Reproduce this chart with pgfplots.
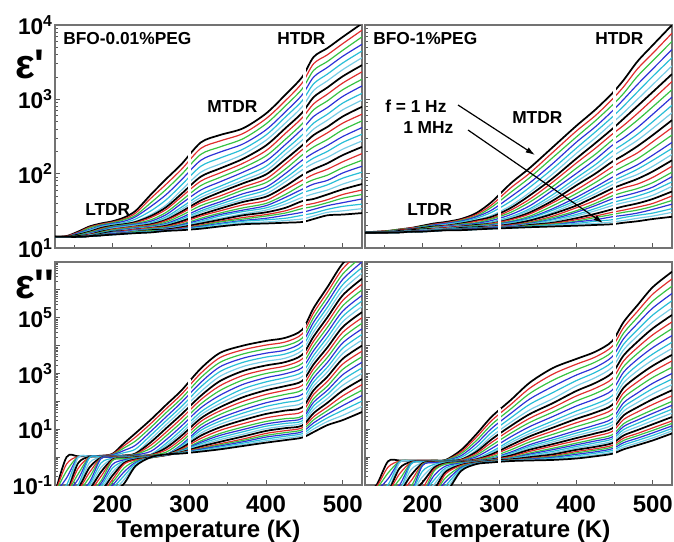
\documentclass[border=0pt]{standalone}
\usepackage{pgfplots}
\pgfplotsset{compat=1.18}
\usepackage{pgfplotstable}
\usepackage{fontspec}
\setmainfont{Liberation Sans}
\newfontfamily\epsfont{Liberation Sans}
\usetikzlibrary{arrows.meta}
\definecolor{cR}{RGB}{225,45,45}
\definecolor{cG}{RGB}{55,195,65}
\definecolor{cB}{RGB}{45,50,215}
\definecolor{cC}{RGB}{40,190,215}
\definecolor{cL}{RGB}{120,205,230}
\pgfplotscreateplotcyclelist{diel}{black,line width=1.3pt\\cR,line width=0.9pt\\cG,line width=0.9pt\\cB,line width=0.9pt\\cC,line width=0.9pt\\cL,line width=0.9pt\\}

\pgfplotstableread{
T c0 c1 c2 c3 c4 c5 c6 c7 c8 c9 c10 c11 c12 c13 c14 c15 c16 c17 c18 c19 c20 c21 c22 c23 c24 c25 c26 c27 c28 c29 c30
125 1.15 1.15 1.15 1.15 1.15 1.15 1.15 1.15 1.15 1.15 1.15 1.15 1.15 1.15 1.15 1.15 1.15 1.15 1.15 1.15 1.15 1.15 1.15 1.15 1.15 1.15 1.15 1.15 1.15 1.15 1.15
140 1.16 1.16 1.15 1.15 1.15 1.15 1.15 1.15 1.15 1.15 1.15 1.15 1.15 1.15 1.15 1.15 1.15 1.15 1.15 1.15 1.15 1.15 1.15 1.15 1.15 1.15 1.15 1.15 1.15 1.15 1.15
155 1.22 1.21 1.20 1.20 1.19 1.18 1.18 1.17 1.17 1.16 1.16 1.16 1.16 1.15 1.15 1.15 1.15 1.15 1.15 1.15 1.15 1.15 1.15 1.15 1.15 1.15 1.15 1.15 1.15 1.15 1.15
170 1.29 1.28 1.27 1.25 1.24 1.23 1.22 1.21 1.21 1.20 1.19 1.19 1.18 1.18 1.17 1.17 1.17 1.17 1.16 1.16 1.16 1.16 1.16 1.16 1.16 1.16 1.16 1.16 1.16 1.16 1.16
185 1.33 1.32 1.31 1.30 1.29 1.28 1.27 1.26 1.25 1.24 1.23 1.22 1.22 1.21 1.21 1.20 1.20 1.19 1.19 1.18 1.18 1.18 1.18 1.17 1.17 1.17 1.17 1.17 1.17 1.17 1.17
200 1.36 1.35 1.34 1.33 1.32 1.31 1.30 1.29 1.29 1.28 1.27 1.26 1.25 1.25 1.24 1.23 1.23 1.22 1.22 1.21 1.21 1.21 1.20 1.20 1.19 1.19 1.19 1.19 1.18 1.18 1.18
215 1.41 1.39 1.38 1.36 1.34 1.33 1.32 1.31 1.31 1.30 1.29 1.28 1.27 1.27 1.26 1.25 1.24 1.24 1.23 1.23 1.22 1.22 1.21 1.21 1.20 1.20 1.20 1.20 1.19 1.19 1.19
230 1.50 1.47 1.44 1.42 1.39 1.36 1.35 1.34 1.33 1.32 1.31 1.30 1.29 1.29 1.28 1.27 1.26 1.26 1.25 1.25 1.24 1.24 1.23 1.23 1.22 1.22 1.22 1.21 1.21 1.20 1.20
250 1.72 1.67 1.61 1.56 1.50 1.45 1.43 1.41 1.38 1.36 1.34 1.33 1.32 1.31 1.30 1.29 1.28 1.28 1.27 1.27 1.26 1.25 1.25 1.24 1.24 1.23 1.23 1.22 1.22 1.21 1.21
270 1.93 1.86 1.79 1.72 1.65 1.58 1.55 1.52 1.48 1.45 1.42 1.40 1.38 1.37 1.35 1.33 1.32 1.31 1.30 1.29 1.28 1.27 1.26 1.26 1.25 1.24 1.24 1.24 1.23 1.23 1.23
290 2.13 2.06 1.99 1.92 1.85 1.78 1.73 1.69 1.64 1.60 1.55 1.52 1.49 1.47 1.44 1.41 1.39 1.37 1.36 1.34 1.32 1.31 1.30 1.29 1.28 1.27 1.26 1.26 1.25 1.25 1.24
315 2.42 2.34 2.26 2.18 2.10 2.02 1.96 1.90 1.84 1.78 1.72 1.68 1.64 1.61 1.57 1.53 1.50 1.48 1.45 1.43 1.40 1.38 1.36 1.35 1.33 1.31 1.30 1.29 1.28 1.27 1.26
340 2.52 2.44 2.36 2.29 2.21 2.13 2.07 2.01 1.95 1.89 1.83 1.79 1.75 1.70 1.66 1.62 1.59 1.56 1.53 1.50 1.47 1.45 1.43 1.40 1.38 1.36 1.35 1.33 1.32 1.30 1.29
370 2.61 2.54 2.47 2.40 2.33 2.26 2.20 2.14 2.08 2.02 1.96 1.91 1.87 1.82 1.78 1.73 1.69 1.65 1.62 1.58 1.54 1.51 1.49 1.46 1.44 1.41 1.39 1.37 1.36 1.34 1.32
400 2.81 2.74 2.67 2.59 2.52 2.45 2.38 2.31 2.24 2.17 2.10 2.04 1.99 1.93 1.88 1.82 1.78 1.73 1.69 1.64 1.60 1.57 1.54 1.51 1.48 1.45 1.43 1.40 1.38 1.35 1.33
425 3.06 2.98 2.91 2.83 2.76 2.68 2.61 2.54 2.46 2.39 2.32 2.26 2.19 2.13 2.06 2.00 1.94 1.89 1.83 1.78 1.72 1.68 1.63 1.59 1.54 1.50 1.47 1.44 1.40 1.37 1.34
447 3.30 3.22 3.14 3.06 2.98 2.90 2.82 2.75 2.67 2.60 2.52 2.45 2.38 2.32 2.25 2.18 2.11 2.05 1.98 1.91 1.85 1.79 1.74 1.68 1.63 1.57 1.53 1.48 1.44 1.39 1.35
462 3.57 3.48 3.39 3.30 3.21 3.12 3.03 2.94 2.86 2.77 2.68 2.60 2.52 2.44 2.36 2.28 2.21 2.14 2.06 1.99 1.92 1.86 1.79 1.73 1.66 1.60 1.56 1.52 1.47 1.43 1.39
480 3.69 3.60 3.51 3.43 3.34 3.25 3.16 3.07 2.98 2.89 2.80 2.72 2.63 2.55 2.46 2.38 2.30 2.22 2.14 2.06 1.98 1.91 1.85 1.78 1.72 1.65 1.61 1.57 1.52 1.48 1.44
500 3.84 3.75 3.66 3.58 3.49 3.40 3.31 3.22 3.13 3.04 2.95 2.86 2.77 2.68 2.59 2.50 2.42 2.33 2.25 2.16 2.08 2.01 1.94 1.86 1.79 1.72 1.67 1.61 1.56 1.50 1.45
525 4.02 3.93 3.84 3.74 3.65 3.56 3.46 3.37 3.27 3.18 3.08 2.99 2.90 2.80 2.71 2.62 2.53 2.44 2.36 2.27 2.18 2.10 2.02 1.94 1.86 1.78 1.72 1.66 1.59 1.53 1.47
}\tTL

\pgfplotstableread{
T c0 c1 c2 c3 c4 c5 c6 c7 c8 c9 c10 c11 c12 c13 c14 c15 c16 c17 c18 c19 c20 c21 c22 c23 c24 c25 c26 c27 c28 c29 c30
125 1.21 1.21 1.21 1.21 1.21 1.21 1.21 1.21 1.21 1.21 1.21 1.21 1.21 1.21 1.21 1.21 1.21 1.21 1.21 1.21 1.21 1.21 1.21 1.21 1.21 1.21 1.21 1.21 1.21 1.21 1.21
140 1.22 1.22 1.21 1.21 1.21 1.21 1.21 1.21 1.21 1.21 1.21 1.21 1.21 1.21 1.21 1.21 1.21 1.21 1.21 1.21 1.21 1.21 1.21 1.21 1.21 1.21 1.21 1.21 1.21 1.21 1.21
155 1.23 1.23 1.23 1.22 1.22 1.22 1.22 1.22 1.22 1.22 1.22 1.22 1.21 1.21 1.21 1.21 1.21 1.21 1.21 1.21 1.21 1.21 1.21 1.21 1.21 1.21 1.21 1.21 1.21 1.21 1.21
170 1.25 1.25 1.25 1.24 1.24 1.24 1.24 1.24 1.23 1.23 1.23 1.23 1.23 1.22 1.22 1.22 1.22 1.22 1.22 1.22 1.22 1.22 1.21 1.21 1.21 1.21 1.21 1.21 1.21 1.21 1.21
185 1.27 1.27 1.26 1.26 1.25 1.25 1.25 1.25 1.24 1.24 1.24 1.24 1.24 1.23 1.23 1.23 1.23 1.23 1.22 1.22 1.22 1.22 1.22 1.22 1.22 1.22 1.22 1.22 1.22 1.22 1.22
200 1.30 1.29 1.29 1.28 1.28 1.27 1.27 1.26 1.26 1.25 1.25 1.25 1.25 1.24 1.24 1.24 1.24 1.24 1.23 1.23 1.23 1.23 1.23 1.23 1.23 1.23 1.23 1.23 1.22 1.22 1.22
215 1.33 1.32 1.31 1.31 1.30 1.29 1.29 1.28 1.28 1.27 1.27 1.27 1.26 1.26 1.25 1.25 1.25 1.25 1.24 1.24 1.24 1.24 1.24 1.23 1.23 1.23 1.23 1.23 1.23 1.23 1.23
230 1.35 1.34 1.33 1.33 1.32 1.31 1.30 1.30 1.29 1.29 1.28 1.28 1.27 1.27 1.26 1.26 1.26 1.26 1.25 1.25 1.25 1.25 1.25 1.24 1.24 1.24 1.24 1.24 1.24 1.24 1.24
250 1.39 1.38 1.37 1.36 1.35 1.34 1.33 1.32 1.32 1.31 1.30 1.30 1.29 1.29 1.28 1.28 1.28 1.27 1.27 1.26 1.26 1.26 1.26 1.25 1.25 1.25 1.25 1.25 1.24 1.24 1.24
270 1.47 1.45 1.43 1.42 1.40 1.38 1.37 1.36 1.34 1.33 1.32 1.31 1.31 1.30 1.30 1.29 1.29 1.28 1.28 1.27 1.27 1.27 1.27 1.26 1.26 1.26 1.26 1.26 1.25 1.25 1.25
290 1.62 1.58 1.55 1.51 1.48 1.44 1.42 1.40 1.39 1.37 1.35 1.34 1.33 1.33 1.32 1.31 1.30 1.30 1.29 1.29 1.28 1.28 1.28 1.27 1.27 1.27 1.27 1.27 1.26 1.26 1.26
315 1.87 1.81 1.75 1.69 1.63 1.57 1.54 1.51 1.48 1.45 1.42 1.41 1.39 1.38 1.36 1.35 1.34 1.33 1.32 1.31 1.30 1.30 1.29 1.29 1.28 1.28 1.28 1.28 1.27 1.27 1.27
340 2.08 2.01 1.95 1.88 1.82 1.75 1.71 1.66 1.62 1.57 1.53 1.51 1.48 1.46 1.43 1.41 1.40 1.38 1.37 1.35 1.34 1.33 1.32 1.32 1.31 1.30 1.30 1.29 1.29 1.28 1.28
370 2.36 2.29 2.22 2.14 2.07 2.00 1.94 1.89 1.83 1.78 1.72 1.68 1.64 1.61 1.57 1.53 1.51 1.48 1.46 1.43 1.41 1.39 1.38 1.36 1.34 1.33 1.32 1.31 1.31 1.30 1.29
400 2.64 2.57 2.49 2.42 2.34 2.27 2.20 2.14 2.07 2.00 1.94 1.89 1.84 1.78 1.73 1.68 1.64 1.61 1.57 1.54 1.50 1.48 1.45 1.43 1.40 1.38 1.36 1.35 1.33 1.32 1.30
425 2.86 2.78 2.71 2.63 2.56 2.48 2.41 2.34 2.26 2.19 2.12 2.06 2.00 1.94 1.88 1.82 1.78 1.73 1.69 1.64 1.60 1.57 1.53 1.50 1.46 1.43 1.41 1.38 1.36 1.33 1.31
447 3.08 3.00 2.92 2.84 2.76 2.68 2.60 2.53 2.45 2.38 2.30 2.23 2.16 2.09 2.02 1.95 1.90 1.85 1.80 1.75 1.70 1.66 1.61 1.57 1.52 1.48 1.45 1.42 1.38 1.35 1.32
462 3.26 3.17 3.08 3.00 2.91 2.82 2.74 2.65 2.57 2.48 2.40 2.33 2.25 2.18 2.10 2.03 1.97 1.92 1.86 1.81 1.75 1.70 1.65 1.61 1.56 1.51 1.48 1.44 1.41 1.37 1.34
480 3.51 3.41 3.31 3.20 3.10 3.00 2.91 2.81 2.72 2.62 2.53 2.45 2.37 2.28 2.20 2.12 2.06 1.99 1.93 1.86 1.80 1.75 1.70 1.65 1.60 1.55 1.51 1.47 1.44 1.40 1.36
500 3.73 3.62 3.52 3.41 3.31 3.20 3.10 3.00 2.90 2.80 2.70 2.61 2.52 2.43 2.34 2.25 2.18 2.10 2.03 1.95 1.88 1.82 1.77 1.71 1.66 1.60 1.56 1.52 1.47 1.43 1.39
525 4.00 3.89 3.78 3.67 3.56 3.45 3.34 3.24 3.13 3.03 2.92 2.82 2.72 2.62 2.52 2.42 2.34 2.26 2.18 2.10 2.02 1.96 1.89 1.83 1.76 1.70 1.64 1.59 1.53 1.48 1.42
}\tTR

\pgfplotstableread{
T c0 c1 c2 c3 c4 c5 c6 c7 c8 c9 c10 c11 c12 c13 c14 c15 c16 c17 c18 c19 c20 c21 c22 c23 c24 c25 c26 c27 c28 c29 c30
125 -1.3 -1.3 -1.3 -1.3 -1.3 -1.3 -1.3 -1.3 -1.3 -1.3 -1.3 -1.3 -1.3 -1.3 -1.3 -1.3 -1.3 -1.3 -1.3 -1.3 -1.3 -1.3 -1.3 -1.3 -1.3 -1.3 -1.3 -1.3 -1.3 -1.3 -1.3
140 0.00 -0.25 -0.50 -0.75 -1.00 -1.25 -1.26 -1.27 -1.28 -1.29 -1.3 -1.3 -1.3 -1.3 -1.3 -1.3 -1.3 -1.3 -1.3 -1.3 -1.3 -1.3 -1.3 -1.3 -1.3 -1.3 -1.3 -1.3 -1.3 -1.3 -1.3
155 0.03 0.02 0.01 0.00 -0.01 -0.02 -0.22 -0.41 -0.61 -0.80 -1.00 -1.06 -1.12 -1.18 -1.24 -1.3 -1.3 -1.3 -1.3 -1.3 -1.3 -1.3 -1.3 -1.3 -1.3 -1.3 -1.3 -1.3 -1.3 -1.3 -1.3
170 0.04 0.04 0.03 0.03 0.02 0.02 0.01 0.00 0.00 -0.01 -0.02 -0.20 -0.37 -0.55 -0.72 -0.90 -0.98 -1.06 -1.14 -1.22 -1.3 -1.3 -1.3 -1.3 -1.3 -1.3 -1.3 -1.3 -1.3 -1.3 -1.3
185 0.05 0.05 0.04 0.04 0.03 0.03 0.02 0.02 0.01 0.01 0.00 -0.01 -0.02 -0.03 -0.04 -0.05 -0.21 -0.37 -0.53 -0.69 -0.85 -0.94 -1.03 -1.12 -1.21 -1.3 -1.3 -1.3 -1.3 -1.3 -1.3
200 0.12 0.11 0.09 0.08 0.06 0.05 0.04 0.04 0.03 0.03 0.02 0.01 0.00 0.00 -0.01 -0.02 -0.04 -0.06 -0.08 -0.10 -0.12 -0.26 -0.39 -0.53 -0.66 -0.80 -0.90 -1.00 -1.10 -1.20 -1.30
215 0.50 0.41 0.33 0.24 0.16 0.07 0.06 0.06 0.05 0.05 0.04 0.03 0.02 0.02 0.01 0.00 -0.01 -0.02 -0.04 -0.05 -0.06 -0.10 -0.14 -0.17 -0.21 -0.25 -0.39 -0.53 -0.67 -0.81 -0.95
230 0.86 0.72 0.58 0.43 0.29 0.15 0.13 0.11 0.10 0.08 0.06 0.05 0.05 0.04 0.04 0.03 0.02 0.01 0.00 -0.01 -0.02 -0.04 -0.05 -0.07 -0.08 -0.10 -0.14 -0.19 -0.23 -0.28 -0.32
250 1.35 1.21 1.07 0.93 0.79 0.65 0.54 0.43 0.32 0.21 0.10 0.09 0.08 0.08 0.07 0.06 0.05 0.05 0.04 0.04 0.03 0.02 0.01 0.00 -0.01 -0.02 -0.02 -0.01 -0.01 0.00 0.00
270 1.88 1.74 1.60 1.45 1.31 1.17 1.04 0.90 0.77 0.63 0.50 0.42 0.34 0.26 0.18 0.10 0.10 0.09 0.09 0.08 0.08 0.08 0.08 0.07 0.07 0.07 0.08 0.08 0.09 0.09 0.10
290 2.40 2.26 2.11 1.97 1.82 1.68 1.54 1.40 1.26 1.12 0.98 0.87 0.77 0.66 0.56 0.45 0.41 0.37 0.33 0.29 0.25 0.23 0.22 0.20 0.18 0.17 0.16 0.15 0.15 0.14 0.13
315 3.18 3.01 2.85 2.68 2.52 2.35 2.20 2.06 1.91 1.77 1.62 1.51 1.39 1.28 1.16 1.05 0.96 0.86 0.77 0.67 0.58 0.53 0.48 0.43 0.38 0.33 0.30 0.28 0.25 0.23 0.20
340 3.74 3.57 3.40 3.24 3.07 2.90 2.73 2.56 2.39 2.22 2.05 1.92 1.79 1.66 1.53 1.40 1.29 1.18 1.07 0.96 0.85 0.78 0.70 0.63 0.55 0.48 0.44 0.40 0.36 0.32 0.28
370 4.00 3.85 3.70 3.55 3.40 3.25 3.09 2.93 2.77 2.61 2.45 2.30 2.15 2.00 1.85 1.70 1.58 1.45 1.33 1.20 1.08 0.99 0.91 0.82 0.74 0.65 0.60 0.55 0.50 0.45 0.40
400 4.17 4.02 3.88 3.73 3.59 3.44 3.29 3.14 3.00 2.85 2.70 2.55 2.40 2.25 2.10 1.95 1.82 1.68 1.55 1.41 1.28 1.19 1.11 1.02 0.94 0.85 0.78 0.72 0.65 0.59 0.52
425 4.28 4.13 3.99 3.84 3.70 3.55 3.41 3.27 3.13 2.99 2.85 2.70 2.55 2.40 2.25 2.10 1.96 1.81 1.67 1.52 1.38 1.29 1.21 1.12 1.04 0.95 0.88 0.81 0.75 0.68 0.61
447 4.57 4.42 4.27 4.13 3.98 3.83 3.67 3.52 3.36 3.21 3.05 2.89 2.73 2.57 2.41 2.25 2.09 1.94 1.78 1.63 1.47 1.39 1.30 1.22 1.13 1.05 0.98 0.91 0.84 0.77 0.70
462 5.35 5.18 5.01 4.84 4.67 4.50 4.33 4.16 3.99 3.82 3.65 3.49 3.33 3.17 3.01 2.85 2.70 2.55 2.40 2.25 2.10 1.97 1.84 1.71 1.58 1.45 1.34 1.23 1.12 1.01 0.90
480 6.10 5.92 5.74 5.56 5.38 5.20 5.02 4.84 4.66 4.48 4.30 4.12 3.94 3.76 3.58 3.40 3.23 3.06 2.89 2.72 2.55 2.40 2.25 2.10 1.95 1.80 1.67 1.54 1.41 1.28 1.15
500 6.95 6.76 6.57 6.38 6.19 6.00 5.81 5.62 5.43 5.24 5.05 4.86 4.67 4.48 4.29 4.10 3.91 3.72 3.53 3.34 3.15 2.96 2.77 2.58 2.39 2.20 2.03 1.85 1.68 1.50 1.33
525 7.60 7.40 7.20 7.00 6.80 6.60 6.40 6.20 6.00 5.80 5.60 5.40 5.20 5.00 4.80 4.60 4.40 4.20 4.00 3.80 3.60 3.40 3.20 3.00 2.80 2.60 2.40 2.21 2.01 1.82 1.62
}\tBL

\pgfplotstableread{
T c0 c1 c2 c3 c4 c5 c6 c7 c8 c9 c10 c11 c12 c13 c14 c15 c16 c17 c18 c19 c20 c21 c22 c23 c24 c25 c26 c27 c28 c29 c30
125 -1.3 -1.3 -1.3 -1.3 -1.3 -1.3 -1.3 -1.3 -1.3 -1.3 -1.3 -1.3 -1.3 -1.3 -1.3 -1.3 -1.3 -1.3 -1.3 -1.3 -1.3 -1.3 -1.3 -1.3 -1.3 -1.3 -1.3 -1.3 -1.3 -1.3 -1.3
140 -1.00 -1.06 -1.12 -1.18 -1.24 -1.3 -1.3 -1.3 -1.3 -1.3 -1.3 -1.3 -1.3 -1.3 -1.3 -1.3 -1.3 -1.3 -1.3 -1.3 -1.3 -1.3 -1.3 -1.3 -1.3 -1.3 -1.3 -1.3 -1.3 -1.3 -1.3
155 -0.15 -0.36 -0.57 -0.78 -0.99 -1.20 -1.22 -1.24 -1.26 -1.28 -1.3 -1.3 -1.3 -1.3 -1.3 -1.3 -1.3 -1.3 -1.3 -1.3 -1.3 -1.3 -1.3 -1.3 -1.3 -1.3 -1.3 -1.3 -1.3 -1.3 -1.3
170 -0.12 -0.14 -0.15 -0.17 -0.18 -0.20 -0.40 -0.60 -0.80 -1.00 -1.20 -1.22 -1.24 -1.26 -1.28 -1.3 -1.3 -1.3 -1.3 -1.3 -1.3 -1.3 -1.3 -1.3 -1.3 -1.3 -1.3 -1.3 -1.3 -1.3 -1.3
185 -0.12 -0.13 -0.13 -0.14 -0.14 -0.15 -0.17 -0.19 -0.21 -0.23 -0.25 -0.45 -0.65 -0.85 -1.05 -1.25 -1.26 -1.27 -1.28 -1.29 -1.3 -1.3 -1.3 -1.3 -1.3 -1.3 -1.3 -1.3 -1.3 -1.3 -1.3
200 -0.12 -0.12 -0.13 -0.13 -0.14 -0.14 -0.15 -0.15 -0.16 -0.16 -0.17 -0.20 -0.22 -0.25 -0.27 -0.30 -0.50 -0.70 -0.90 -1.10 -1.3 -1.3 -1.3 -1.3 -1.3 -1.3 -1.3 -1.3 -1.3 -1.3 -1.3
215 -0.12 -0.12 -0.12 -0.13 -0.13 -0.13 -0.13 -0.14 -0.14 -0.15 -0.15 -0.16 -0.17 -0.18 -0.19 -0.20 -0.26 -0.32 -0.38 -0.44 -0.50 -0.66 -0.82 -0.98 -1.14 -1.3 -1.3 -1.3 -1.3 -1.3 -1.3
230 -0.10 -0.11 -0.11 -0.12 -0.12 -0.13 -0.13 -0.14 -0.14 -0.15 -0.15 -0.16 -0.16 -0.17 -0.17 -0.18 -0.19 -0.21 -0.22 -0.24 -0.25 -0.32 -0.39 -0.46 -0.53 -0.60 -0.74 -0.88 -1.02 -1.16 -1.30
250 0.25 0.18 0.12 0.05 -0.01 -0.08 -0.09 -0.10 -0.12 -0.13 -0.14 -0.14 -0.15 -0.15 -0.16 -0.16 -0.17 -0.18 -0.18 -0.19 -0.20 -0.22 -0.24 -0.26 -0.28 -0.30 -0.34 -0.38 -0.42 -0.46 -0.50
270 0.82 0.71 0.59 0.48 0.36 0.25 0.19 0.13 0.07 0.01 -0.05 -0.06 -0.08 -0.09 -0.11 -0.12 -0.13 -0.13 -0.14 -0.14 -0.15 -0.16 -0.17 -0.18 -0.19 -0.20 -0.21 -0.22 -0.23 -0.24 -0.25
290 1.45 1.31 1.17 1.03 0.89 0.75 0.64 0.53 0.42 0.31 0.20 0.15 0.10 0.06 0.01 -0.04 -0.05 -0.06 -0.08 -0.09 -0.10 -0.11 -0.12 -0.12 -0.13 -0.14 -0.15 -0.16 -0.17 -0.18 -0.19
315 2.05 1.89 1.73 1.57 1.41 1.25 1.12 0.99 0.86 0.73 0.60 0.52 0.43 0.35 0.26 0.18 0.14 0.10 0.06 0.02 -0.02 -0.04 -0.05 -0.07 -0.08 -0.10 -0.11 -0.12 -0.12 -0.13 -0.14
340 2.68 2.48 2.29 2.09 1.90 1.70 1.55 1.40 1.25 1.10 0.95 0.85 0.75 0.65 0.55 0.45 0.39 0.33 0.27 0.21 0.15 0.11 0.07 0.04 0.00 -0.04 -0.06 -0.07 -0.09 -0.10 -0.12
370 3.20 2.98 2.76 2.54 2.32 2.10 1.94 1.78 1.62 1.46 1.30 1.18 1.06 0.94 0.82 0.70 0.62 0.55 0.47 0.40 0.32 0.27 0.21 0.16 0.10 0.05 0.02 -0.01 -0.04 -0.07 -0.10
400 3.52 3.33 3.13 2.94 2.74 2.55 2.37 2.19 2.01 1.83 1.65 1.51 1.37 1.23 1.09 0.95 0.86 0.77 0.68 0.59 0.50 0.44 0.38 0.32 0.26 0.20 0.15 0.10 0.05 0.00 -0.05
425 3.78 3.59 3.41 3.22 3.04 2.85 2.66 2.47 2.28 2.09 1.90 1.75 1.60 1.45 1.30 1.15 1.05 0.95 0.85 0.75 0.65 0.58 0.51 0.44 0.37 0.30 0.25 0.19 0.14 0.08 0.03
447 4.16 3.97 3.78 3.60 3.41 3.22 3.02 2.81 2.61 2.40 2.20 2.04 1.87 1.71 1.54 1.38 1.26 1.15 1.03 0.92 0.80 0.72 0.65 0.57 0.50 0.42 0.36 0.30 0.24 0.18 0.12
462 4.85 4.65 4.45 4.25 4.05 3.85 3.65 3.45 3.25 3.05 2.85 2.67 2.49 2.31 2.13 1.95 1.80 1.65 1.50 1.35 1.20 1.10 0.99 0.89 0.78 0.68 0.60 0.52 0.44 0.36 0.28
480 5.45 5.23 5.01 4.79 4.57 4.35 4.14 3.93 3.72 3.51 3.30 3.10 2.90 2.70 2.50 2.30 2.13 1.96 1.79 1.62 1.45 1.33 1.21 1.09 0.97 0.85 0.77 0.68 0.60 0.51 0.43
500 6.10 5.85 5.60 5.35 5.10 4.85 4.62 4.39 4.16 3.93 3.70 3.49 3.28 3.07 2.86 2.65 2.46 2.27 2.08 1.89 1.70 1.57 1.44 1.31 1.18 1.05 0.96 0.87 0.78 0.69 0.60
525 6.65 6.39 6.13 5.87 5.61 5.35 5.10 4.85 4.61 4.36 4.12 3.90 3.67 3.45 3.22 3.00 2.80 2.60 2.40 2.20 2.00 1.86 1.72 1.58 1.44 1.30 1.21 1.12 1.03 0.94 0.85
}\tBR

\pgfplotsset{
  panel/.style={
    scale only axis, width=230.25pt, height=167.25pt, anchor=north west,
    xmin=125, xmax=525,
    xtick={200,300,400,500}, minor xtick={150,250,350,450},
    xtick pos=left, ytick pos=left, tick align=inside,
    major tick length=4pt, minor tick length=2.4pt,
    every tick/.style={black!65, line width=0.7pt},
    every minor tick/.style={black!65, line width=0.6pt},
    axis line style={black!55, line width=0.9pt},
    cycle list name=diel,
    ticklabel style={font=\fontsize{17}{17}\selectfont\bfseries},
    yticklabel style={inner sep=1.5pt},
    xticklabel style={font=\fontsize{18}{18}\selectfont\bfseries, yshift=-4.5pt},
  },
  toppanel/.style={panel, ymin=1, ymax=4, ytick={1,2,3,4},
    minor ytick={1.301,1.477,1.602,1.699,1.778,1.845,1.903,1.954,2.301,2.477,2.602,2.699,2.778,2.845,2.903,2.954,3.301,3.477,3.602,3.699,3.778,3.845,3.903,3.954},
    xticklabels={}},
  botpanel/.style={panel, ymin=-1, ymax=7, ytick={-1,0,1,2,3,4,5,6,7},
    minor ytick={-0.699,-0.523,-0.398,-0.301,-0.222,-0.155,-0.097,-0.046,0.301,0.477,0.602,0.699,0.778,0.845,0.903,0.954,1.301,1.477,1.602,1.699,1.778,1.845,1.903,1.954,2.301,2.477,2.602,2.699,2.778,2.845,2.903,2.954,3.301,3.477,3.602,3.699,3.778,3.845,3.903,3.954,4.301,4.477,4.602,4.699,4.778,4.845,4.903,4.954,5.301,5.477,5.602,5.699,5.778,5.845,5.903,5.954,6.301,6.477,6.602,6.699,6.778,6.845,6.903,6.954},
    xticklabels={200,300,400,500},
    xlabel={Temperature (K)},
    xlabel style={font=\fontsize{18}{18}\selectfont\bfseries, yshift=1pt}},
}

\begin{document}
\begin{tikzpicture}
\useasboundingbox (0,0) rectangle (505.5pt,-406.5pt);

\begin{axis}[toppanel, at={(41.25pt,-18.75pt)},
  yticklabels={10\textsuperscript{1},10\textsuperscript{2},10\textsuperscript{3},10\textsuperscript{4}}]
\pgfplotsinvokeforeach{0,...,30}{\addplot+[smooth, no markers] table[x=T, y=c#1] {\tTL};}
\addplot[white, line width=1.8pt] coordinates {(300,1.20) (300,2.32)};
\addplot[white, line width=1.8pt] coordinates {(450,1.30) (450,3.42)};
\end{axis}

\begin{axis}[toppanel, at={(273.75pt,-18.75pt)}, yticklabels={}]
\pgfplotsinvokeforeach{0,...,30}{\addplot+[smooth, no markers] table[x=T, y=c#1] {\tTR};}
\addplot[white, line width=1.8pt] coordinates {(300,1.22) (300,1.76)};
\addplot[white, line width=1.8pt] coordinates {(450,1.28) (450,3.16)};
\end{axis}

\begin{axis}[botpanel, at={(41.25pt,-196.5pt)},
  yticklabels={10\textsuperscript{-1},,10\textsuperscript{1},,10\textsuperscript{3},,10\textsuperscript{5},,}]
\pgfplotsinvokeforeach{0,...,30}{\addplot+[smooth, no markers] table[x=T, y=c#1] {\tBL};}
\addplot[white, line width=1.8pt] coordinates {(300,0.05) (300,2.80)};
\addplot[white, line width=1.8pt] coordinates {(450,0.60) (450,4.80)};
\end{axis}

\begin{axis}[botpanel, at={(273.75pt,-196.5pt)}, yticklabels={}]
\pgfplotsinvokeforeach{0,...,30}{\addplot+[smooth, no markers] table[x=T, y=c#1] {\tBR};}
\addplot[white, line width=1.8pt] coordinates {(300,-0.22) (300,1.75)};
\addplot[white, line width=1.8pt] coordinates {(450,0.08) (450,4.40)};
\end{axis}

\begin{scope}[x=0.75pt, y=-0.75pt, every node/.style={inner sep=0pt, anchor=base west, font=\fontsize{13}{13}\selectfont\bfseries}]
\node at (63,45) {BFO-0.01\%PEG};
\node at (277,45) {HTDR};
\node at (207,113) {MTDR};
\node at (85,215) {LTDR};
\node at (373,45) {BFO-1\%PEG};
\node at (595,45) {HTDR};
\node at (512,123) {MTDR};
\node at (407,215) {LTDR};
\node at (385,112) {f = 1 Hz};
\node at (403,133) {1 MHz};
\draw[-{Latex[length=7pt,width=4.5pt]}, line width=0.9pt] (458,105) -- (535,155);
\draw[-{Latex[length=7pt,width=4.5pt]}, line width=0.9pt] (468,130) -- (603,223);
\node[font=\epsfont\bfseries\fontsize{31}{31}\selectfont] at (15,79) {ε'};
\node[font=\epsfont\bfseries\fontsize{31}{31}\selectfont] at (15,298) {ε''};
\end{scope}
\end{tikzpicture}
\end{document}
